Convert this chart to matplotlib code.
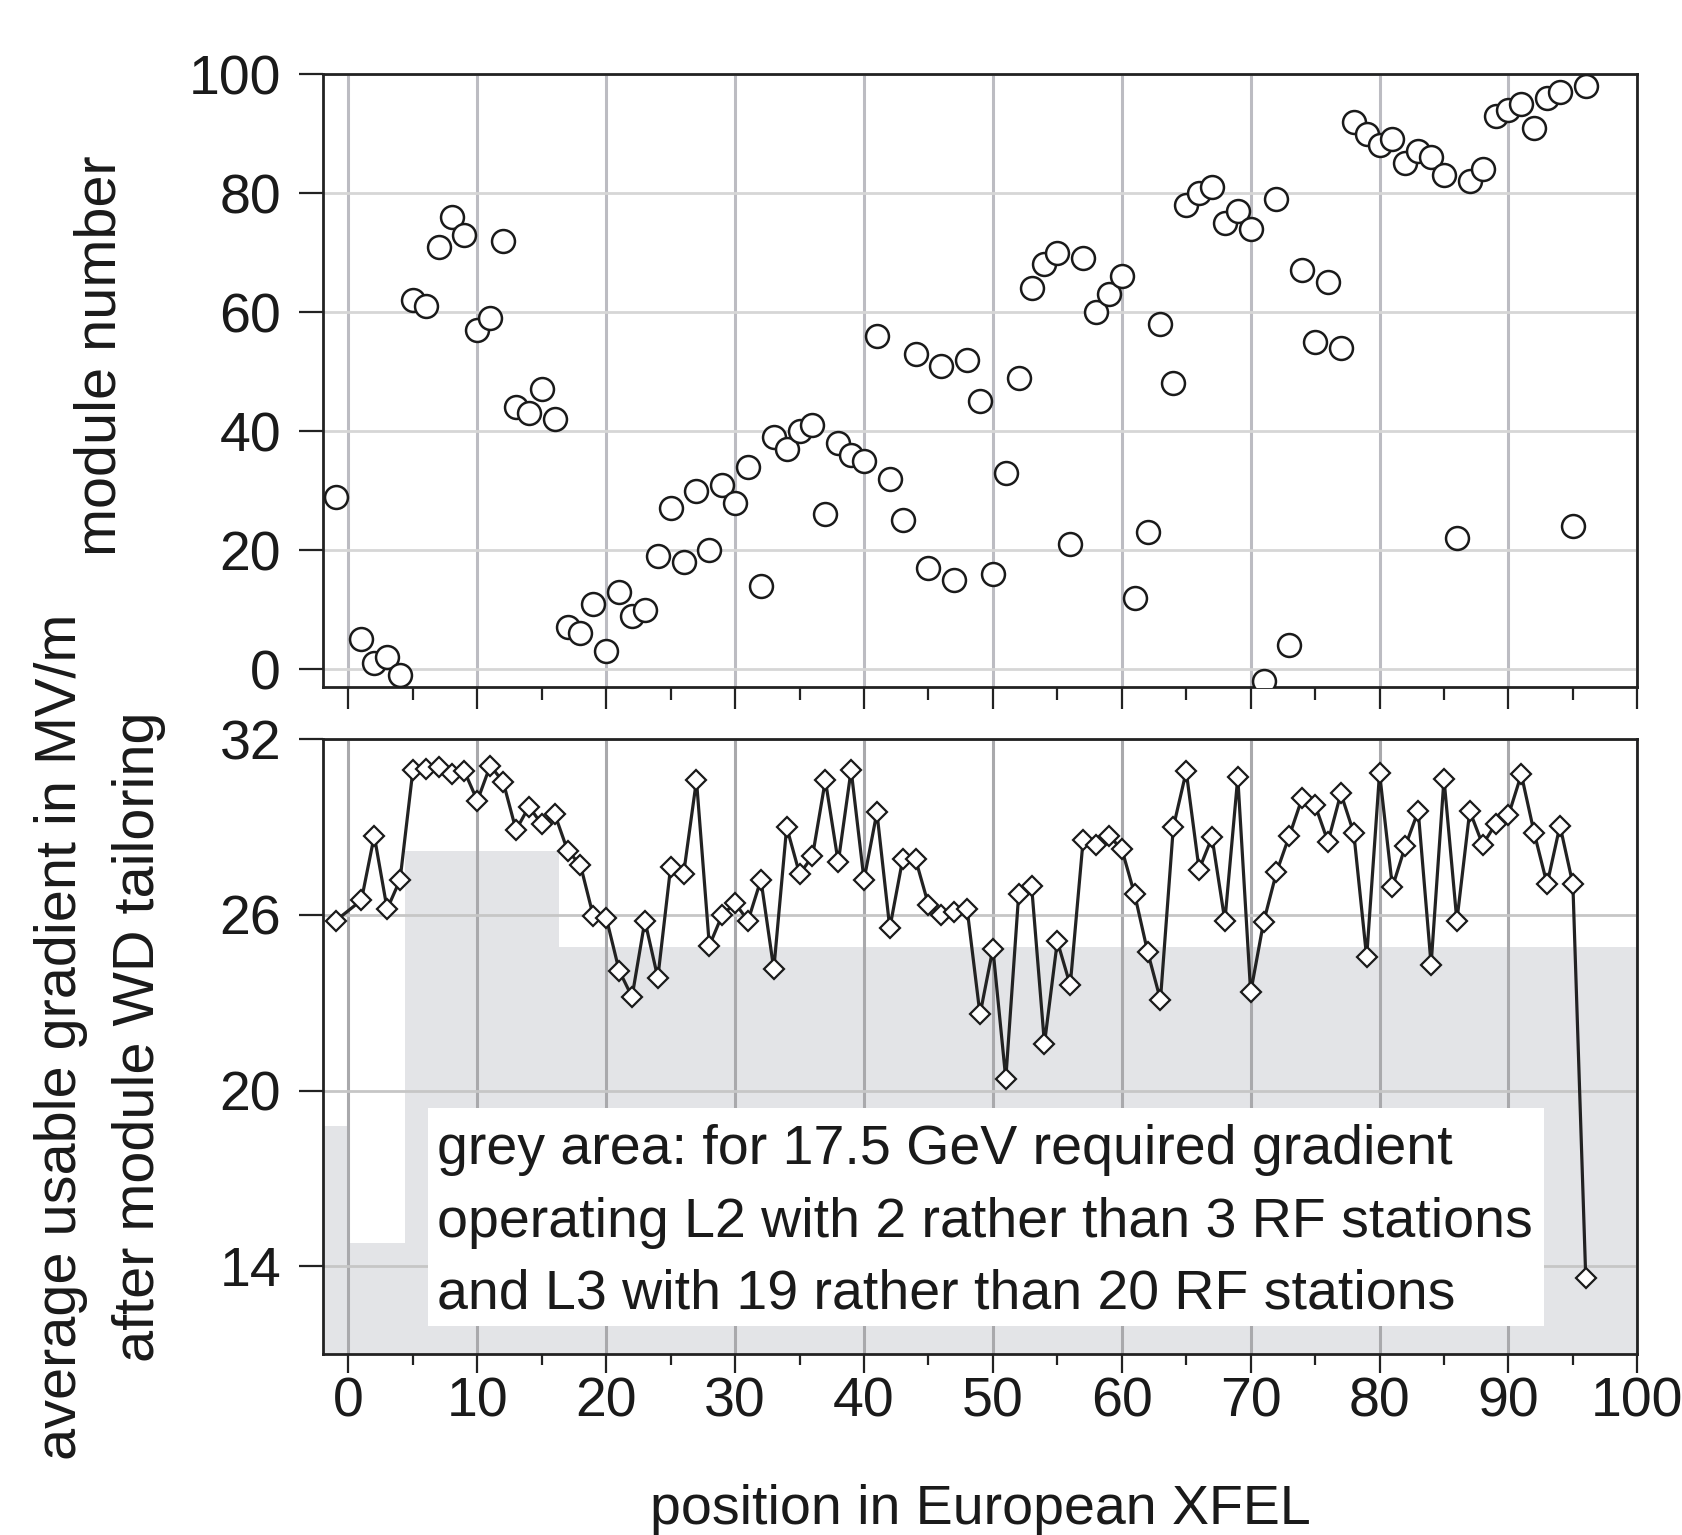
import matplotlib
matplotlib.use("Agg")
import matplotlib.pyplot as plt
from matplotlib.patches import Rectangle
from matplotlib.ticker import MultipleLocator

plt.rcParams['font.family'] = ['Liberation Sans', 'DejaVu Sans']

# ---------------- data ----------------
positions = [-1] + list(range(1, 97))

module_number = [29, 5, 1, 2, -1, 62, 61, 71, 76, 73, 57, 59, 72, 44, 43, 47, 42,
                 7, 6, 11, 3, 13, 9, 10, 19, 27, 18, 30, 20, 31, 28, 34, 14, 39, 37,
                 40, 41, 26, 38, 36, 35, 56, 32, 25, 53, 17, 51, 15, 52, 45, 16, 33,
                 49, 64, 68, 70, 21, 69, 60, 63, 66, 12, 23, 58, 48, 78, 80, 81, 75,
                 77, 74, -2, 79, 4, 67, 55, 65, 54, 92, 90, 88, 89, 85, 87, 86, 83,
                 22, 82, 84, 93, 94, 95, 91, 96, 97, 24, 98]

gradient = [25.8, 26.5, 28.7, 26.2, 27.2, 30.95, 31.0, 31.05, 30.8, 30.9, 29.9, 31.1,
            30.55, 28.9, 29.7, 29.1, 29.45, 28.2, 27.7, 25.95, 25.9, 24.1, 23.2, 25.8,
            23.85, 27.65, 27.4, 30.6, 24.95, 26.0, 26.4, 25.8, 27.2, 24.15, 29.0, 27.4,
            28.0, 30.6, 27.8, 30.95, 27.2, 29.5, 25.55, 27.9, 27.9, 26.35, 26.0, 26.1,
            26.2, 22.6, 24.85, 20.4, 26.7, 27.0, 21.6, 25.1, 23.6, 28.55, 28.4, 28.7,
            28.25, 26.7, 24.75, 23.1, 29.0, 30.9, 27.55, 28.65, 25.8, 30.7, 23.35,
            25.75, 27.45, 28.7, 30.0, 29.75, 28.5, 30.15, 28.8, 24.55, 30.85, 26.95,
            28.35, 29.55, 24.3, 30.65, 25.8, 29.55, 28.4, 29.1, 29.4, 30.8, 28.8,
            27.05, 29.05, 27.05, 13.6]

# required gradient (grey area), step function
req_edges = [-2, -0.15, 4.35, 16.35, 100]
req_levels = [18.8, 14.8, 28.2, 24.9, 24.9]

top_yticks = [0, 20, 40, 60, 80, 100]
bot_yticks = [14, 20, 26, 32]
xticks = [0, 10, 20, 30, 40, 50, 60, 70, 80, 90, 100]

note_lines = ["grey area: for 17.5 GeV required gradient",
              "operating L2 with 2 rather than 3 RF stations",
              "and L3 with 19 rather than 20 RF stations"]

# ---------------- figure ----------------
TXT = '#1a1a1a'
fig = plt.figure(figsize=(16.82, 15.35), dpi=100)
ax1 = fig.add_axes([0.19186, 0.55244, 0.78157, 0.39935])
ax2 = fig.add_axes([0.19186, 0.11792, 0.78157, 0.40046])

for ax in (ax1, ax2):
    ax.set_xlim(-2, 100)
    ax.set_axisbelow(True)
    for s in ax.spines.values():
        s.set_linewidth(2.0)
        s.set_color('#222222')
    ax.xaxis.set_major_locator(MultipleLocator(10))
    ax.xaxis.set_minor_locator(MultipleLocator(5))
    ax.tick_params(axis='y', which='major', direction='out', length=17, width=1.6,
                   pad=13, labelsize=40, labelcolor=TXT, color='#222222')
    ax.tick_params(axis='x', which='minor', direction='out', width=1.6, color='#222222')
    ax.tick_params(axis='x', which='major', direction='out', width=1.6, color='#222222',
                   labelsize=40, labelcolor=TXT)

# ---- top panel ----
ax1.set_ylim(-3, 100)
ax1.set_yticks(top_yticks)
ax1.tick_params(axis='x', which='major', length=16, labelbottom=False)
ax1.tick_params(axis='x', which='minor', length=9)
ax1.grid(True, axis='x', which='major', color='#bcbcc2', lw=2.2)
ax1.grid(True, axis='y', which='major', color='#d6d6d6', lw=2.0)
ax1.plot(positions, module_number, ls='none', marker='o', ms=16.5,
         mfc='white', mec='#1a1a1a', mew=1.8, zorder=3)

# ---- bottom panel ----
ax2.set_ylim(11, 32)
ax2.set_yticks(bot_yticks)
ax2.set_xticks(xticks)
ax2.tick_params(axis='x', which='major', length=14, pad=2)
ax2.tick_params(axis='x', which='minor', length=8)
ax2.grid(True, axis='x', which='major', color='#a9a9ac', lw=2.2)
ax2.grid(True, axis='y', which='major', color='#c6c6c6', lw=2.0)
ax2.fill_between(req_edges, 0, req_levels, step='post', color='#e3e4e7',
                 lw=0, zorder=0.2)
ax2.add_patch(Rectangle((6.19, 11.97), 92.76 - 6.19, 19.4 - 11.97,
                        facecolor='white', edgecolor='none', zorder=1))
for yb, line in zip([17.49, 15.0, 12.54], note_lines):
    ax2.text(6.89, yb, line, fontsize=40, color=TXT, ha='left', va='baseline',
             zorder=1.5)
ax2.plot(positions, gradient, color='#222222', lw=2.3, marker='D', ms=10,
         mfc='white', mec='#1a1a1a', mew=1.6, zorder=3)

# ---- labels ----
fig.text(115 / 1682, 1 - 356 / 1535, 'module number', rotation=90,
         rotation_mode='anchor', ha='center', va='baseline', fontsize=41.5, color=TXT)
fig.text(76 / 1682, 1 - 1037 / 1535, 'average usable gradient in MV/m', rotation=90,
         rotation_mode='anchor', ha='center', va='baseline', fontsize=41.5, color=TXT)
fig.text(154 / 1682, 1 - 1037 / 1535, 'after module WD tailoring', rotation=90,
         rotation_mode='anchor', ha='center', va='baseline', fontsize=41.5, color=TXT)
fig.text(980 / 1682, 1 - 1524 / 1535, 'position in European XFEL',
         ha='center', va='baseline', fontsize=40, color=TXT)

fig.savefig('out.png', dpi=100, facecolor='white')
